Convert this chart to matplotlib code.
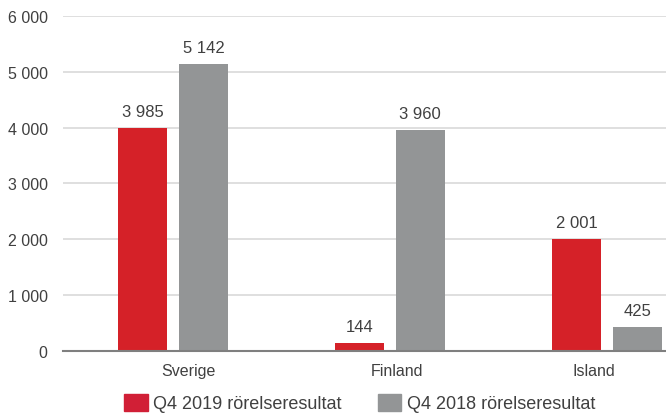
import numpy as np
import matplotlib.pyplot as plt
from matplotlib.patches import Patch

plt.rcParams['font.family'] = ['Liberation Sans', 'DejaVu Sans']

regions = ['Sverige', 'Finland', 'Island']
q4_2019 = [3985, 144, 2001]
q4_2018 = [5142, 3960, 425]
series_names = ['Q4 2019 rörelseresultat', 'Q4 2018 rörelseresultat']
yticks = [0, 1000, 2000, 3000, 4000, 5000, 6000]

red = '#d52128'
grey = '#939596'
text_col = '#404040'


def fmt(v):
    return format(int(v), ',').replace(',', ' ')


fig = plt.figure(figsize=(6.66, 4.14), dpi=100)
ax = fig.add_axes([0.0946, 0.1498, 0.9054, 0.8092])

x = np.arange(len(regions))
w = 0.226
off = 0.14
b1 = ax.bar(x - off, q4_2019, w, color=red, zorder=3)
b2 = ax.bar(x + off, q4_2018, w, color=grey, zorder=3)

for bars, vals in ((b1, q4_2019), (b2, q4_2018)):
    for rect, v in zip(bars, vals):
        ax.annotate(fmt(v), (rect.get_x() + rect.get_width() / 2, v),
                    xytext=(0, 6.5), textcoords='offset points',
                    ha='center', va='bottom', fontsize=12, color=text_col)

ax.set_xlim(-0.507, 2.272)
ax.set_ylim(0, 6000)
ax.set_yticks(yticks)
ax.set_yticklabels([fmt(t) for t in yticks])
# category labels sit a little off the bar-pair centres in the original
ax.set_xticks(x + np.array([0.07, 0.03, -0.06]))
ax.set_xticklabels(regions)
ax.tick_params(axis='both', length=0, labelsize=11.5, colors=text_col)
ax.tick_params(axis='y', pad=11)
ax.tick_params(axis='x', pad=9)

ax.grid(axis='y', color='#d9d9d9', linewidth=1.2, zorder=0)
for s in ['top', 'right', 'left']:
    ax.spines[s].set_visible(False)
ax.spines['bottom'].set_color('#7f7f7f')
ax.spines['bottom'].set_linewidth(1.5)
ax.spines['bottom'].set_zorder(4)

handles = [Patch(color='#d11f36'), Patch(color=grey)]
fig.legend(handles, series_names, loc='center', bbox_to_anchor=(0.54, 0.024),
           ncol=2, frameon=False, fontsize=13, labelcolor=text_col,
           handlelength=1.3, handleheight=1.1, handletextpad=0.3,
           columnspacing=2.0)

fig.savefig('out.png', dpi=100)
